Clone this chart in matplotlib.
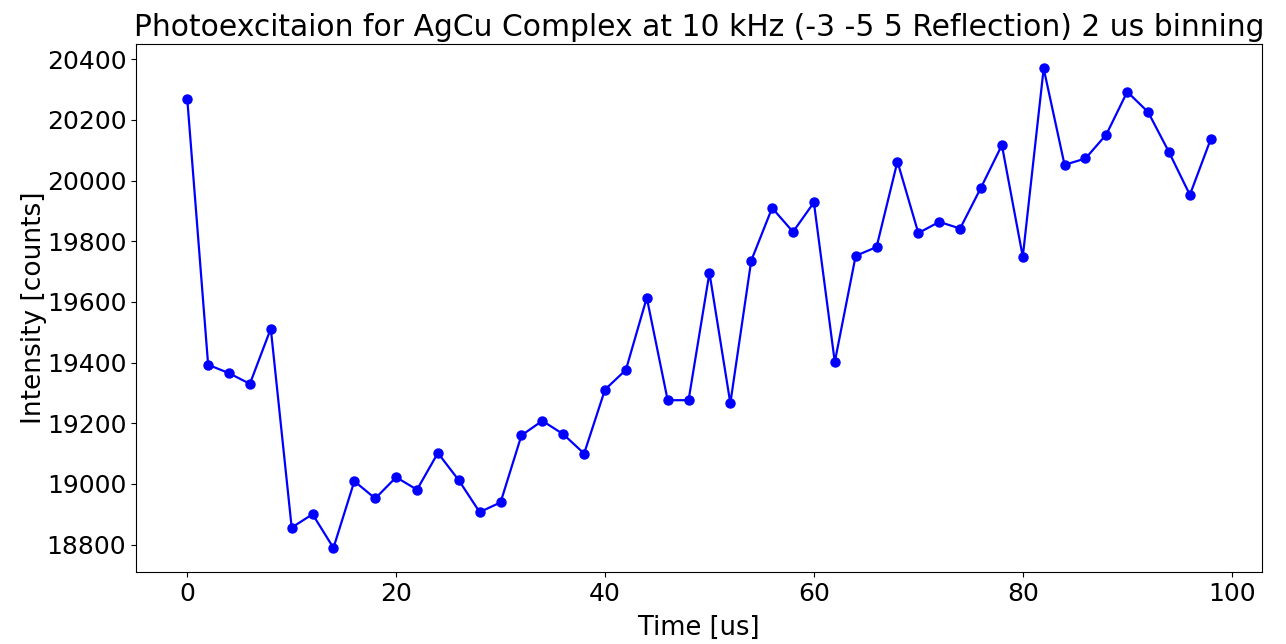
import matplotlib
matplotlib.use("Agg")
import matplotlib.pyplot as plt

# Time bins (us) and measured intensity (counts)
time_us = list(range(0, 100, 2))
intensity = [
    20270, 19393, 19365, 19330, 19512, 18856, 18900, 18789, 19009, 18952,
    19022, 18981, 19102, 19012, 18907, 18939, 19160, 19208, 19164, 19100,
    19311, 19376, 19614, 19276, 19276, 19696, 19266, 19736, 19910, 19831,
    19928, 19402, 19752, 19781, 20063, 19827, 19864, 19842, 19977, 20117,
    19749, 20370, 20052, 20073, 20152, 20293, 20226, 20094, 19953, 20137,
]
y_ticks = [18800, 19000, 19200, 19400, 19600, 19800, 20000, 20200, 20400]
title_text = "Photoexcitaion for AgCu Complex at 10 kHz (-3 -5 5 Reflection) 2 us binning"

plt.rcParams["font.family"] = ["DejaVu Sans"]

fig = plt.figure(figsize=(12.86, 6.44), dpi=100)
ax = fig.add_axes([0.1058, 0.112, 0.8755, 0.819])
ax.plot(time_us, intensity, color="blue", marker="o", markersize=6.5, linewidth=1.6)
ax.set_yticks(y_ticks)
ax.tick_params(labelsize=18)
ax.set_xlabel("Time [us]", fontsize=18.5, labelpad=7)
ax.set_ylabel("Intensity [counts]", fontsize=19, labelpad=0)

# size the title so it spans the width of the axes
title = ax.set_title(title_text, fontsize=20, pad=6)
renderer = fig.canvas.get_renderer()
w = title.get_window_extent(renderer).width
title.set_fontsize(20 * 1127 / w)

fig.savefig("out.png", dpi=100)
